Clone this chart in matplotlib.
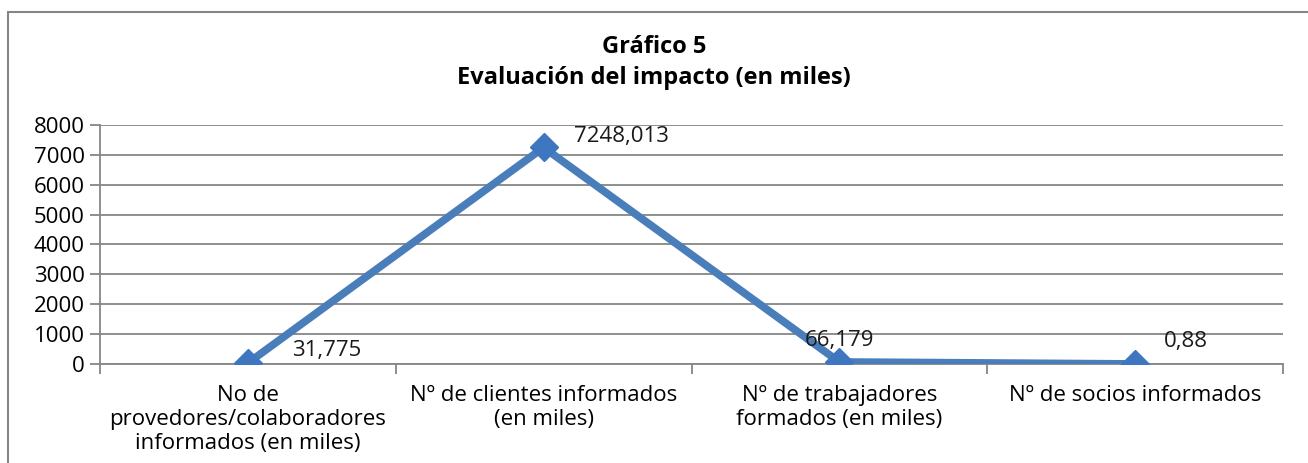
import matplotlib
matplotlib.use('Agg')
import matplotlib.pyplot as plt
from matplotlib.patches import Rectangle

categorias = ['No de\nprovedores/colaboradores\ninformados (en miles)',
              'Nº de clientes informados\n(en miles)',
              'Nº de trabajadores\nformados (en miles)',
              'Nº de socios informados']
valores = [31.775, 7248.013, 66.179, 0.88]
etiquetas = ['31,775', '7248,013', '66,179', '0,88']
offsets = [(79, 13), (78, 11), (0, 22), (51, 22)]

plt.rcParams['font.family'] = ['Open Sans', 'DejaVu Sans']
gris = '#868686'
azul = '#4A7EBB'
fs = 16

fig = plt.figure(figsize=(13.08, 4.63), dpi=100)
ax = fig.add_axes([100/1308, 1-364/463, 1183/1308, 239/463])

x = list(range(len(valores)))
ax.plot(x, valores, color=azul, lw=5.6, marker='D', markersize=14.5,
        markerfacecolor='#3F76C0', markeredgecolor='#3F76C0', zorder=3)
for xi, v, t, off in zip(x, valores, etiquetas, offsets):
    ax.annotate(t, (xi, v), xytext=off, textcoords='offset pixels',
                ha='center', va='center', fontsize=fs, color='#1a1a1a')

ax.set_xlim(-0.5, len(valores) - 0.5)
ax.set_ylim(0, 8000)
ax.set_yticks(range(0, 8001, 1000))
ax.set_yticklabels([str(v) for v in range(0, 8001, 1000)], fontsize=fs)
ax.set_xticks(x)
ax.set_xticklabels(categorias, fontsize=fs, linespacing=1.2)
ax.tick_params(axis='x', length=0, pad=15)
ax.set_xticks([i - 0.5 for i in range(len(valores) + 1)], minor=True)
ax.tick_params(axis='x', which='minor', length=7, color=gris, width=1.3)
ax.tick_params(axis='y', length=7, color=gris, width=1.3, pad=4)
ax.grid(axis='y', color=gris, lw=1.3)
ax.set_axisbelow(True)
for s in ['top', 'right']:
    ax.spines[s].set_visible(False)
for s in ['left', 'bottom']:
    ax.spines[s].set_color(gris)
    ax.spines[s].set_linewidth(1.3)

fig.text(0.5, 1-47/463, 'Gráfico 5', ha='center', va='center', fontsize=17, fontweight='bold')
fig.text(0.5, 1-78/463, 'Evaluación del impacto (en miles)', ha='center', va='center',
         fontsize=17, fontweight='bold')

fig.patches.append(Rectangle((8/1308, -0.1), 1.2, 1-12/463 + 0.1, transform=fig.transFigure,
                             fill=False, edgecolor=gris, lw=1.5))

fig.savefig('out.png', dpi=100)
